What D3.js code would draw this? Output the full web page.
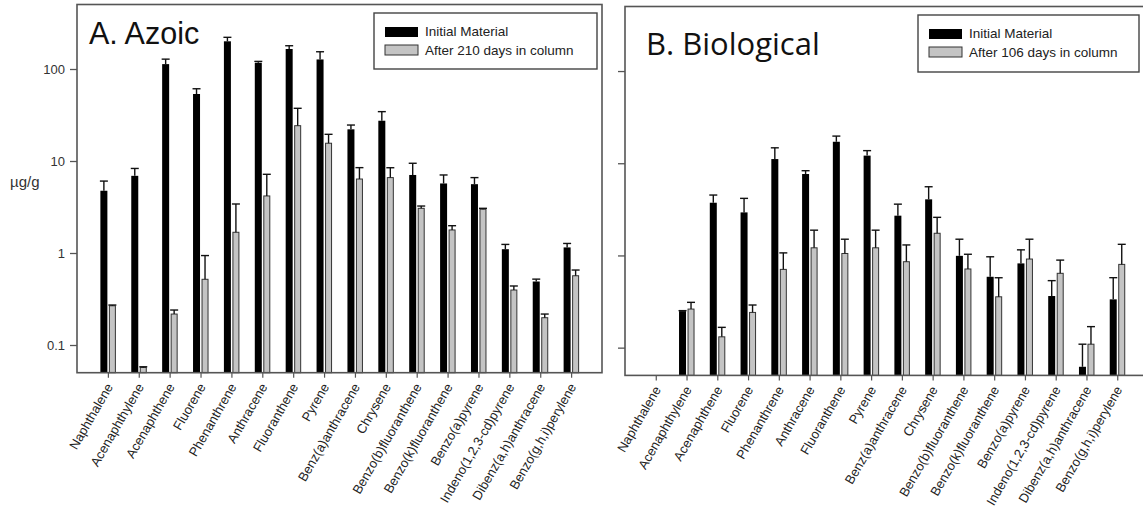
<!DOCTYPE html>
<html>
<head>
<meta charset="utf-8">
<script src="https://cdn.jsdelivr.net/npm/d3@7"></script>
<style>
  html, body { margin: 0; padding: 0; background: #fff; }
  svg { display: block; font-family: "Liberation Sans", Arial, sans-serif; }
</style>
</head>
<body>
<svg id="chart" width="1143" height="519"></svg>
<script>
// ---------- data ----------
const categories = ["Naphthalene","Acenaphthylene","Acenaphthene","Fluorene","Phenanthrene","Anthracene","Fluoranthene","Pyrene","Benz(a)anthracene","Chrysene","Benzo(b)fluoranthene","Benzo(k)fluoranthene","Benzo(a)pyrene","Indeno(1,2,3-cd)pyrene","Dibenz(a,h)anthracene","Benzo(g,h,i)perylene"];

const azoicInitial   = [4.75, 6.9, 113, 53.5, 200, 117, 165, 127, 22.1, 27.4, 7.05, 5.7, 5.6, 1.1, 0.49, 1.15];
const azoicInitialSD = [1.3, 1.4, 15, 7.5, 21, 4, 14, 27, 2.5, 7, 2.4, 1.35, 1.0, 0.14, 0.03, 0.12];
const azoicAfter     = [0.267, 0.057, 0.217, 0.518, 1.68, 4.17, 24.2, 15.6, 6.37, 6.6, 3.06, 1.78, 2.99, 0.396, 0.198, 0.566];
const azoicAfterSD   = [0.005, 0.001, 0.023, 0.42, 1.73, 3.0, 13.2, 3.9, 2.1, 1.85, 0.18, 0.2, 0.07, 0.042, 0.019, 0.087];

const bioInitial   = [null, 0.249, 3.73, 2.93, 11.1, 7.64, 17.1, 12.1, 2.7, 4.06, 0.99, 0.587, 0.82, 0.363, 0.062, 0.334];
const bioInitialSD = [null, 0.003, 0.79, 1.23, 3.6, 0.66, 2.6, 1.6, 0.9, 1.5, 0.51, 0.38, 0.33, 0.17, 0.047, 0.24];
const bioAfter     = [null, 0.262, 0.131, 0.241, 0.706, 1.21, 1.05, 1.21, 0.855, 1.74, 0.713, 0.356, 0.914, 0.64, 0.109, 0.8];
const bioAfterSD   = [null, 0.048, 0.035, 0.049, 0.36, 0.67, 0.45, 0.67, 0.445, 0.85, 0.317, 0.217, 0.586, 0.25, 0.06, 0.52];

const yTicks = [0.1, 1, 10, 100];
const yDomain = [0.05, 500];
const azoicLegend = ["Initial Material", "After 210 days in column"];
const bioLegend = ["Initial Material", "After 106 days in column"];
const yLabel = "µg/g";

// ---------- drawing ----------
const svg = d3.select("#chart");
const frameColor = "#555";
const grayFill = "#c4c4c4";

function panel(cfg) {
  const g = svg.append("g");
  const x = d3.scalePoint().domain(categories).range([cfg.x0, cfg.x1]).padding(1);
  const y = d3.scaleLog().domain(yDomain).range([cfg.yBot, cfg.yTop]);
  const barW = 7;

  // y axis
  const ya = g.append("g").attr("transform", `translate(${cfg.x0},0)`)
    .call(d3.axisLeft(y).tickValues(yTicks).tickSize(7).tickPadding(5)
      .tickFormat(cfg.showLabels ? d3.format("~g") : () => ""));
  ya.select(".domain").remove();
  ya.selectAll("line").attr("stroke", frameColor).attr("stroke-width", 1.3);
  ya.selectAll("text").attr("font-size", 13).attr("fill", "#333");

  // x axis
  const xa = g.append("g").attr("transform", `translate(0,${cfg.yBot})`)
    .call(d3.axisBottom(x).tickSize(5).tickPadding(0));
  xa.select(".domain").remove();
  xa.selectAll("line").attr("stroke", frameColor).attr("stroke-width", 1.2);
  xa.selectAll("text")
    .attr("font-size", 13).attr("fill", "#222")
    .attr("text-anchor", "end")
    .attr("dy", 0)
    .attr("y", 0)
    .attr("transform", "translate(5,14) rotate(-60)");

  const rows = categories.map((c, i) => ({c, i,
    a: cfg.a[i], aSD: cfg.aSD[i], b: cfg.b[i], bSD: cfg.bSD[i]}));

  // bars
  const data1 = rows.filter(d => d.a != null);
  const data2 = rows.filter(d => d.b != null);
  g.selectAll(".b1").data(data1).join("rect")
    .attr("x", d => x(d.c) - 7.5).attr("width", barW)
    .attr("y", d => y(d.a)).attr("height", d => cfg.yBot - y(d.a))
    .attr("fill", "#000");
  g.selectAll(".b2").data(data2).join("rect")
    .attr("x", d => x(d.c) + 1.5).attr("width", barW - 1)
    .attr("y", d => y(d.b)).attr("height", d => cfg.yBot - y(d.b))
    .attr("fill", grayFill).attr("stroke", "#333").attr("stroke-width", 1);

  // error bars
  function err(data, key, sdKey, cx) {
    const eg = g.append("g").attr("stroke", "#111").attr("stroke-width", 1.4);
    eg.selectAll("line.v").data(data).join("line")
      .attr("x1", d => cx(d)).attr("x2", d => cx(d))
      .attr("y1", d => y(d[key])).attr("y2", d => y(d[key] + d[sdKey]));
    eg.selectAll("line.c").data(data).join("line")
      .attr("x1", d => cx(d) - 4).attr("x2", d => cx(d) + 4)
      .attr("y1", d => y(d[key] + d[sdKey])).attr("y2", d => y(d[key] + d[sdKey]));
  }
  err(data1, "a", "aSD", d => x(d.c) - 4);
  err(data2, "b", "bSD", d => x(d.c) + 4.5);

  // frame
  g.append("rect").attr("x", cfg.x0).attr("y", cfg.frameTop)
    .attr("width", cfg.x1 - cfg.x0).attr("height", cfg.yBot - cfg.frameTop)
    .attr("fill", "none").attr("stroke", frameColor).attr("stroke-width", 1.6);

  // title
  g.append("text").attr("x", cfg.titleX).attr("y", cfg.titleY)
    .attr("font-size", cfg.titleSize).attr("fill", "#111")
    .attr("font-family", cfg.titleFont)
    .text(cfg.title);

  // legend
  const L = cfg.legend;
  g.append("rect").attr("x", L.x).attr("y", L.y).attr("width", L.w).attr("height", L.h)
    .attr("fill", "#fff").attr("stroke", "#444").attr("stroke-width", 1.4);
  g.append("rect").attr("x", L.x + 11).attr("y", L.y + 14).attr("width", 33).attr("height", 10)
    .attr("fill", "#000");
  g.append("rect").attr("x", L.x + 11).attr("y", L.y + 32).attr("width", 33).attr("height", 10)
    .attr("fill", grayFill).attr("stroke", "#333").attr("stroke-width", 1);
  g.append("text").attr("x", L.x + 51).attr("y", L.y + 23).attr("font-size", 13.5).attr("fill", "#222")
    .text(L.labels[0]);
  g.append("text").attr("x", L.x + 51).attr("y", L.y + 42).attr("font-size", 13.5).attr("fill", "#222")
    .text(L.labels[1]);
}

panel({
  x0: 77, x1: 602, yTop: 4.7, yBot: 372.7, frameTop: 4.5, showLabels: true,
  a: azoicInitial, aSD: azoicInitialSD, b: azoicAfter, bSD: azoicAfterSD,
  title: "A. Azoic", titleX: 89, titleY: 44, titleSize: 30.5, titleFont: "Liberation Sans, Arial, sans-serif",
  legend: {x: 374, y: 13, w: 223, h: 56, labels: azoicLegend}
});
panel({
  x0: 625, x1: 1148, yTop: 6.6, yBot: 375.4, frameTop: 6.5, showLabels: false,
  a: bioInitial, aSD: bioInitialSD, b: bioAfter, bSD: bioAfterSD,
  title: "B. Biological", titleX: 646, titleY: 55, titleSize: 31, titleFont: "Open Sans, sans-serif",
  legend: {x: 918, y: 15, w: 221, h: 57, labels: bioLegend}
});

svg.append("text").attr("x", 10).attr("y", 187).attr("font-size", 15).attr("fill", "#333").text(yLabel);
</script>
</body>
</html>
